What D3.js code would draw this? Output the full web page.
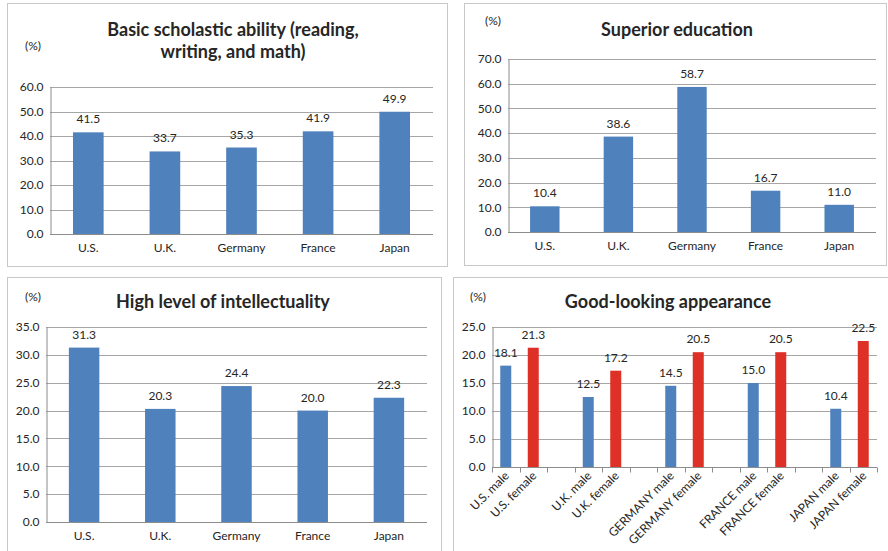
<!doctype html>
<html>
<head>
<meta charset="utf-8">
<title>D3 chart</title>
<style>
  body { margin: 0; background: #fff; }
  text { font-family: Lato, "Open Sans", sans-serif; fill: #262626; }
</style>
</head>
<body>
<div id="chart"></div>
<script src="https://cdn.jsdelivr.net/npm/d3@7"></script>
<script>
// data
var countries = ["U.S.", "U.K.", "Germany", "France", "Japan"];
var basicValues = [41.5, 33.7, 35.3, 41.9, 49.9];
var superiorValues = [10.4, 38.6, 58.7, 16.7, 11.0];
var intellectValues = [31.3, 20.3, 24.4, 20.0, 22.3];

var genderCats = ["U.S. male", "U.S. female", "", "U.K. male", "U.K. female", " ",
  "GERMANY male", "GERMANY female", "  ", "FRANCE male", "FRANCE female", "   ",
  "JAPAN male", "JAPAN female"];
var lookingValues = [18.1, 21.3, null, 12.5, 17.2, null, 14.5, 20.5, null, 15.0, 20.5, null, 10.4, 22.5];
var lookingGender = ["m", "f", null, "m", "f", null, "m", "f", null, "m", "f", null, "m", "f"];

var blue = "#4f81bd";
var red = "#dd3127";

var svg = d3.select("#chart").append("svg")
  .attr("width", 888).attr("height", 551);

// パネル枠
function frame(x0, y0, x1, y1) {
  svg.append("rect")
    .attr("x", x0 + 0.5).attr("y", y0 + 0.5)
    .attr("width", x1 - x0).attr("height", y1 - y0)
    .attr("fill", "#fff").attr("stroke", "#c8c8c8");
}

function panel(o) {
  frame(o.box[0], o.box[1], o.box[2], o.box[3]);
  var g = svg.append("g");

  var y = d3.scaleLinear().domain([0, o.max]).range([o.bottom, o.top]);
  var x = d3.scaleBand().domain(o.cats).range([o.left, o.right]).paddingInner(o.pad).paddingOuter(o.pad / 2);
  var band = d3.scaleBand().domain(o.cats).range([o.left, o.right]);

  var rows = o.values.map(function(v, i) {
    return { cat: o.cats[i], v: v, color: o.colors ? o.colors[i] : blue };
  }).filter(function(d) { return d.v != null; });

  // グリッド
  var ticks = d3.range(0, o.max + 0.001, o.step);
  g.selectAll(".grid").data(ticks).enter().append("line")
    .attr("x1", o.left).attr("x2", o.right)
    .attr("y1", function(d) { return Math.round(y(d)) + 0.5; })
    .attr("y2", function(d) { return Math.round(y(d)) + 0.5; })
    .attr("stroke", "#a6a6a6").attr("stroke-width", 1);

  // y軸
  var yAxis = d3.axisLeft(y).tickValues(ticks).tickFormat(d3.format(".1f")).tickSize(0).tickPadding(7);
  var ya = g.append("g").attr("transform", "translate(" + (o.left + 0.5) + ",0)").call(yAxis);
  ya.select(".domain").attr("stroke", "#8c8c8c");
  ya.selectAll("text").attr("font-size", "12px").attr("fill", "#262626").attr("font-family", "Lato, sans-serif");

  // 棒
  g.selectAll(".bar").data(rows).enter().append("rect")
    .attr("x", function(d) { return x(d.cat); })
    .attr("y", function(d) { return y(d.v); })
    .attr("width", x.bandwidth())
    .attr("height", function(d) { return o.bottom - y(d.v); })
    .attr("fill", function(d) { return d.color; });

  // 値ラベル
  g.selectAll(".val").data(rows).enter().append("text")
    .attr("x", function(d) { return x(d.cat) + x.bandwidth() / 2; })
    .attr("y", function(d) { return y(d.v) - 9; })
    .attr("text-anchor", "middle").attr("font-size", "12px")
    .text(function(d) { return d.v.toFixed(1); });

  // x軸
  var xa = g.append("g").attr("transform", "translate(0," + (o.bottom + 0.5) + ")");
  xa.append("line").attr("x1", o.left).attr("x2", o.right).attr("stroke", "#8c8c8c");
  if (o.rotate) {
    var edges = o.cats.map(function(c) { return band(c); }).concat([o.right]);
    xa.selectAll(".tk").data(edges).enter().append("line")
      .attr("x1", function(d) { return Math.round(d) + 0.5; })
      .attr("x2", function(d) { return Math.round(d) + 0.5; })
      .attr("y1", 0).attr("y2", 5).attr("stroke", "#8c8c8c");
    xa.selectAll(".lb").data(o.cats).enter().append("text")
      .attr("text-anchor", "end").attr("font-size", "12px")
      .attr("transform", function(d) {
        return "translate(" + (band(d) + band.bandwidth() / 2 + 4) + ",9) rotate(-45)";
      })
      .text(function(d) { return d.trim(); });
  } else {
    xa.selectAll(".lb").data(o.cats).enter().append("text")
      .attr("x", function(d) { return band(d) + band.bandwidth() / 2; })
      .attr("y", 17).attr("text-anchor", "middle").attr("font-size", "12px")
      .text(function(d) { return d; });
  }

  // 単位
  svg.append("text").attr("x", o.unit[0]).attr("y", o.unit[1])
    .attr("text-anchor", "middle").attr("font-size", "12px").text("(%)");

  // タイトル
  o.title.forEach(function(t, i) {
    svg.append("text").attr("x", o.titleX).attr("y", o.titleY + i * 22)
      .attr("text-anchor", "middle").attr("font-size", "18px").attr("font-weight", "bold")
      .attr("fill", "#000").text(t);
  });
}

panel({
  box: [7, 3, 447, 266], left: 50, right: 433, top: 87, bottom: 234,
  max: 60, step: 10, cats: countries, values: basicValues, pad: 0.6,
  unit: [33, 50], title: ["Basic scholastic ability (reading,", "writing, and math)"], titleX: 233, titleY: 36
});

panel({
  box: [464, 3, 886, 265], left: 508, right: 876, top: 59, bottom: 232,
  max: 70, step: 10, cats: countries, values: superiorValues, pad: 0.6,
  unit: [493, 25], title: ["Superior education"], titleX: 677, titleY: 36
});

panel({
  box: [7, 277, 441, 556], left: 46, right: 427, top: 327, bottom: 522,
  max: 35, step: 5, cats: countries, values: intellectValues, pad: 0.6,
  unit: [33, 301], title: ["High level of intellectuality"], titleX: 223, titleY: 308
});

panel({
  box: [453, 277, 892, 560], left: 492, right: 877, top: 327, bottom: 467,
  max: 25, step: 5, cats: genderCats, values: lookingValues, pad: 0.6,
  colors: lookingGender.map(function(g) { return g === "f" ? red : blue; }),
  rotate: true,
  unit: [478, 301], title: ["Good-looking appearance"], titleX: 668, titleY: 308
});
</script>
</body>
</html>
